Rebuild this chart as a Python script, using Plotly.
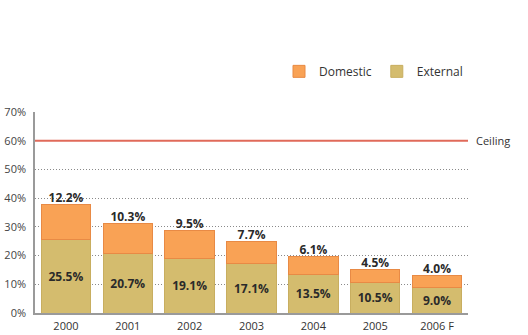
import plotly.graph_objects as go

years = ["2000", "2001", "2002", "2003", "2004", "2005", "2006 F"]
external = [25.5, 20.7, 19.1, 17.1, 13.5, 10.5, 9.0]
domestic = [12.2, 10.3, 9.5, 7.7, 6.1, 4.5, 4.0]
ceiling = 60
y_ticks = [0, 10, 20, 30, 40, 50, 60, 70]

FONT = "Open Sans"
ORANGE = "#F9A255"
ORANGE_EDGE = "#E88A45"
KHAKI = "#D4BC6E"
KHAKI_EDGE = "#C8AE60"

totals = [e + d for e, d in zip(external, domestic)]

fig = go.Figure()
fig.add_trace(go.Bar(
    x=years, y=external, name="External",
    marker=dict(color=KHAKI, line=dict(color=KHAKI_EDGE, width=1)),
    text=[f"{v:.1f}%" for v in external], textposition="inside",
    insidetextanchor="middle", textangle=0,
    textfont=dict(family=FONT, size=12, color="#2a2a2a", weight="bold"),
    hoverinfo="skip",
))
fig.add_trace(go.Bar(
    x=years, y=domestic, name="Domestic",
    marker=dict(color=ORANGE, line=dict(color=ORANGE_EDGE, width=1)),
    hoverinfo="skip",
))
fig.add_trace(go.Scatter(
    x=years, y=totals, mode="text", text=[f"<b>{d:.1f}%</b>" for d in domestic],
    textposition="top center", showlegend=False, hoverinfo="skip", cliponaxis=False,
    textfont=dict(family=FONT, size=12, color="#2a2a2a"),
))

fig.add_shape(type="line", xref="paper", x0=0, x1=1, yref="y", y0=ceiling, y1=ceiling,
              line=dict(color="#E06A5A", width=2))
fig.add_annotation(xref="paper", x=1, y=ceiling, text="Ceiling", showarrow=False,
                   xanchor="left", xshift=6, font=dict(family=FONT, size=11, color="#333"))

fig.update_layout(
    width=528, height=335,
    margin=dict(l=35, r=60, t=112, b=22),
    barmode="stack", bargap=0.2,
    plot_bgcolor="white", paper_bgcolor="white",
    font=dict(family=FONT, size=11, color="#333"),
    legend=dict(orientation="h", x=1.0, xanchor="right", y=1.13, yanchor="bottom",
                traceorder="reversed",
                font=dict(family=FONT, size=12, color="#333")),
    showlegend=True,
)

fig.update_xaxes(type="category", showline=True, linecolor="#9a9a9a", linewidth=1.5, ticks="",
                 automargin=False, ticklabelstandoff=2,
                 tickfont=dict(family=FONT, size=11, color="#333"), showgrid=False)
fig.update_yaxes(range=[0, 70], tickvals=y_ticks, ticktext=[f"{v}%" for v in y_ticks],
                 showline=True, linecolor="#9a9a9a", linewidth=1.5, automargin=False,
                 showgrid=True, gridcolor="#8a8a8a", gridwidth=1, griddash="1px,2px",
                 zeroline=False, ticks="", ticklabelstandoff=5,
                 tickfont=dict(family=FONT, size=11, color="#444"))

fig.write_html("out.html")
